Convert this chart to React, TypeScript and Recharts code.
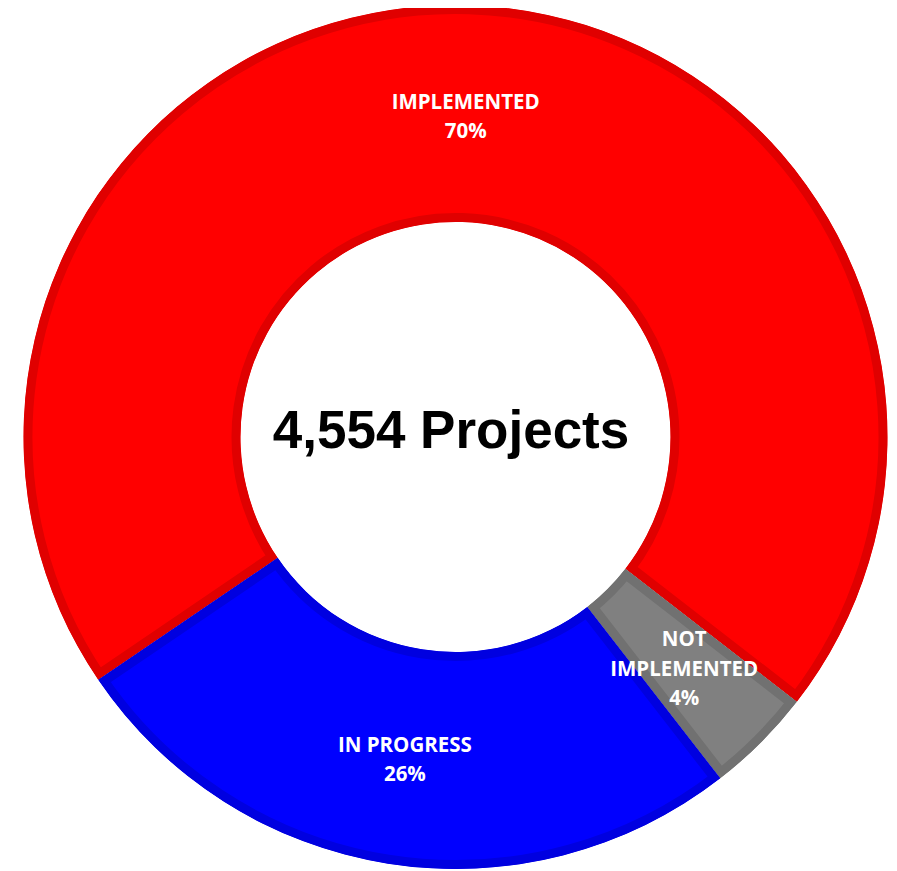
import React from 'react'
import { PieChart, Pie, Cell, Sector } from 'recharts'

const categories = ['IMPLEMENTED', 'NOT\nIMPLEMENTED', 'IN PROGRESS']
const shares = [70, 4, 26]
const totalProjects = '4,554'

const fills = ['#FF0000', '#808080', '#0000FF']
const borders = ['#E00000', '#717171', '#0000E0']

const data = categories.map((name, i) => ({ name, value: shares[i] }))

const RADIAN = Math.PI / 180

// stroke drawn twice as wide, then clipped to the slice so the border sits inside it
const renderSlice = (props: any) => {
  const { cx, cy, innerRadius, outerRadius, startAngle, endAngle, fill, stroke, index } = props
  const id = `slice-clip-${index ?? props.name?.replace(/\W/g, '')}`
  const geom = { cx, cy, innerRadius, outerRadius, startAngle, endAngle }
  return (
    <g>
      <defs>
        <clipPath id={id}>
          <Sector {...geom} />
        </clipPath>
      </defs>
      <Sector
        {...geom}
        fill={fill}
        stroke={stroke}
        strokeWidth={18}
        clipPath={`url(#${id})`}
      />
    </g>
  )
}

const renderLabel = (props: any) => {
  const { cx, cy, midAngle, innerRadius, outerRadius, percent, name } = props
  const r = (innerRadius + outerRadius) / 2
  const x = cx + r * Math.cos(-midAngle * RADIAN)
  const y = cy + r * Math.sin(-midAngle * RADIAN) + 2
  const lines = [...String(name).split('\n'), `${Math.round(percent * 100)}%`]
  const lh = 29.5
  const top = y - ((lines.length - 1) * lh) / 2
  return (
    <text
      x={x}
      textAnchor="middle"
      fill="#FFFFFF"
      style={{ fontFamily: 'Open Sans, sans-serif', fontWeight: 700, fontSize: 20.5 }}
    >
      {lines.map((line, i) => (
        <tspan key={i} x={x} y={top + i * lh} dominantBaseline="central">
          {line}
        </tspan>
      ))}
    </text>
  )
}

export default function App() {
  return (
    <div style={{ width: 889, height: 863 }}>
      <PieChart width={889} height={863} margin={{ top: 0, right: 0, bottom: 0, left: 0 }}>
        <Pie
          data={data}
          dataKey="value"
          nameKey="name"
          cx={447.5}
          cy={429}
          innerRadius={215}
          outerRadius={432}
          startAngle={214.2}
          endAngle={214.2 - 360}
          labelLine={false}
          label={renderLabel}
          shape={renderSlice}
          isAnimationActive={false}
        >
          {data.map((d, i) => (
            <Cell key={d.name} fill={fills[i]} stroke={borders[i]} />
          ))}
        </Pie>
        <text
          x={443}
          y={440}
          textAnchor="middle"
          style={{ fontFamily: 'Liberation Sans, Arial, sans-serif', fontWeight: 700, fontSize: 53 }}
          fill="#000000"
        >
          {`${totalProjects} Projects`}
        </text>
      </PieChart>
    </div>
  )
}
